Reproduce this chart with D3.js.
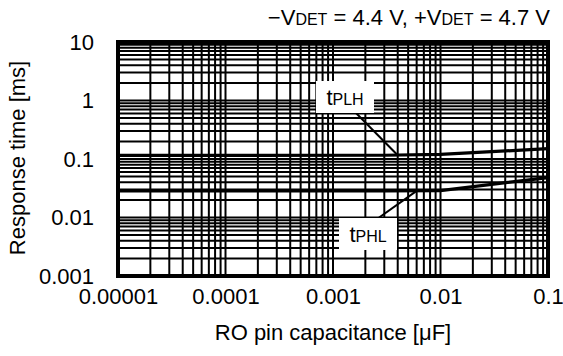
<!DOCTYPE html>
<html><head><meta charset="utf-8">
<script src="https://cdn.jsdelivr.net/npm/d3@7"></script>
<style>
html,body{margin:0;padding:0;background:#fff;}
text{font-family:"Liberation Sans",Arial,sans-serif;fill:#000;}
</style></head>
<body>
<svg id="c" width="563" height="356"></svg>
<script>
const xTicks = [0.00001, 0.0001, 0.001, 0.01, 0.1];
const xTickLabels = ["0.00001", "0.0001", "0.001", "0.01", "0.1"];
const yTicks = [0.001, 0.01, 0.1, 1, 10];
const yTickLabels = ["0.001", "0.01", "0.1", "1", "10"];
const capX = [0.00001, 0.003, 0.01, 0.1];
const tPLH = [0.115, 0.116, 0.12, 0.15];
const tPHL = [0.0285, 0.0285, 0.0288, 0.048];

const svg = d3.select("#c");
const L = 118, R = 548, T = 42, B = 276;
const x = d3.scaleLog().domain([1e-5, 0.1]).range([L, R]);
const y = d3.scaleLog().domain([0.001, 10]).range([B, T]);

const xGrid = [], yGrid = [];
for (let e = -5; e < -1; e++) for (let m = 1; m <= 9; m++) xGrid.push(m * Math.pow(10, e));
for (let e = -3; e < 1; e++) for (let m = 1; m <= 9; m++) yGrid.push(m * Math.pow(10, e));

const g = svg.append("g");
g.selectAll("line.vx").data(xGrid).enter().append("line")
  .attr("x1", d => x(d)).attr("x2", d => x(d)).attr("y1", T).attr("y2", B)
  .attr("stroke", "#000").attr("stroke-width", 2);
g.selectAll("line.hy").data(yGrid).enter().append("line")
  .attr("y1", d => y(d)).attr("y2", d => y(d)).attr("x1", L).attr("x2", R)
  .attr("stroke", "#000").attr("stroke-width", 2);

g.append("rect").attr("x", L).attr("y", T).attr("width", R - L).attr("height", B - T)
  .attr("fill", "none").attr("stroke", "#000").attr("stroke-width", 4);

const line = d3.line().x(d => x(d[0])).y(d => y(d[1]));
[tPLH, tPHL].forEach(s => {
  g.append("path").datum(capX.map((c, i) => [c, s[i]]))
    .attr("d", line).attr("fill", "none").attr("stroke", "#000").attr("stroke-width", 3.2);
});

const xAxis = d3.axisBottom(x).tickValues(xTicks).tickFormat((d, i) => xTickLabels[i]).tickSize(0).tickPadding(12);
const xa = svg.append("g").attr("transform", `translate(0,${B})`).call(xAxis);
xa.select(".domain").remove();
xa.selectAll("text").style("font-size", "22px").attr("font-family", null);

const yAxis = d3.axisLeft(y).tickValues(yTicks).tickFormat((d, i) => yTickLabels[i]).tickSize(0).tickPadding(24);
const ya = svg.append("g").attr("transform", `translate(${L},0)`).call(yAxis);
ya.select(".domain").remove();
ya.selectAll("text").style("font-size", "22px").attr("font-family", null);

svg.append("text").attr("x", (L + R) / 2).attr("y", 340).attr("text-anchor", "middle")
  .style("font-size", "22px").text("RO pin capacitance [μF]");
svg.append("text").attr("transform", "translate(25,158) rotate(-90)").attr("text-anchor", "middle")
  .style("font-size", "22px").text("Response time [ms]");

const title = svg.append("text").attr("x", 550).attr("y", 25).attr("text-anchor", "end").style("font-size", "22px");
title.append("tspan").text("\u2212V");
title.append("tspan").style("font-size", "16px").text("DET");
title.append("tspan").text(" = 4.4 V, +V");
title.append("tspan").style("font-size", "16px").text("DET");
title.append("tspan").text(" = 4.7 V");

function annot(bx, by, bw, bh, sub, lx1, ly1, lx2, ly2) {
  g.append("line").attr("x1", lx1).attr("y1", ly1).attr("x2", lx2).attr("y2", ly2)
    .attr("stroke", "#000").attr("stroke-width", 2);
  g.append("rect").attr("x", bx).attr("y", by).attr("width", bw).attr("height", bh).attr("fill", "#fff");
  const t = g.append("text").attr("x", bx + bw / 2).attr("y", by + bh - 8).attr("text-anchor", "middle").style("font-size", "22px");
  t.append("tspan").text("t");
  t.append("tspan").style("font-size", "16px").text(sub);
}
annot(316, 81, 58, 32, "PLH", 355, 112, x(0.004), y(0.116));
annot(339, 218, 58, 32, "PHL", 370, 224, x(0.006), y(0.0285));
</script>
</body></html>
